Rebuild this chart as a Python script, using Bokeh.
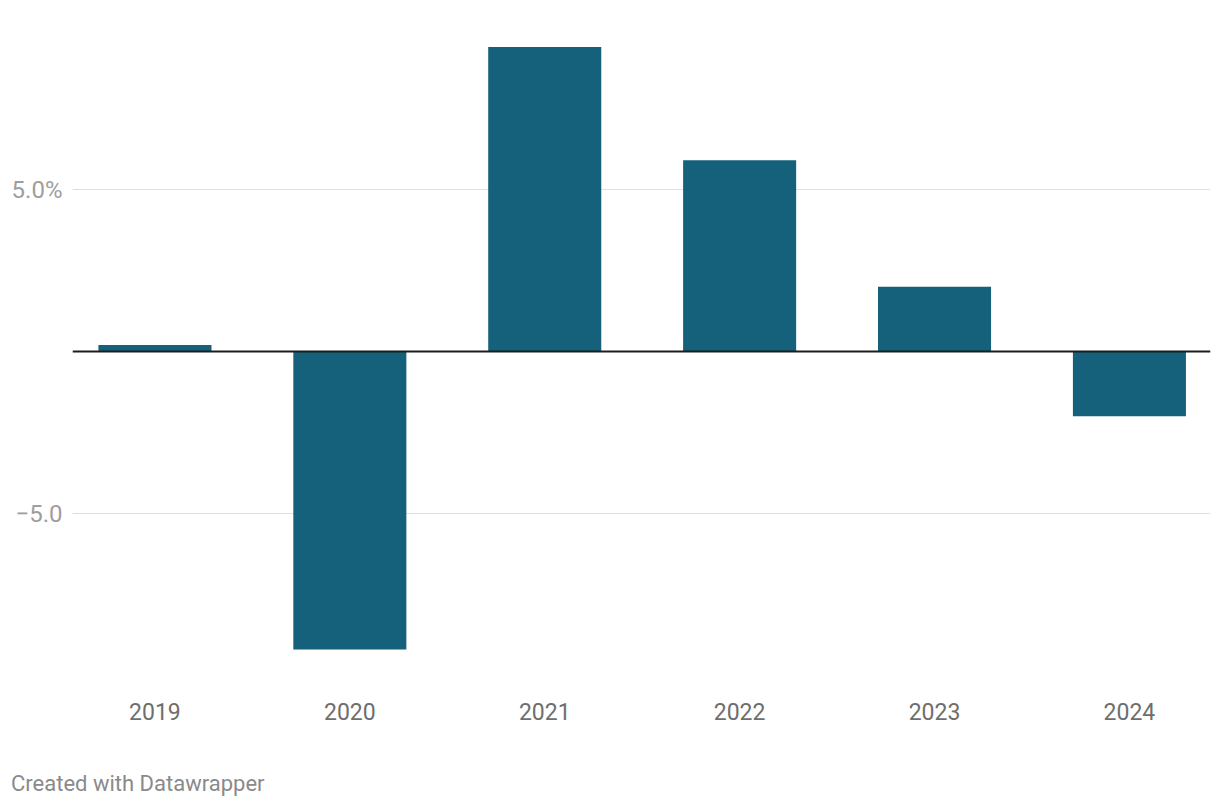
from bokeh.plotting import figure
from bokeh.models import FixedTicker, Span, Div, ColumnDataSource, Range1d
from bokeh.layouts import column
from bokeh.embed import file_html
from bokeh.resources import INLINE

# Data
years = ["2019", "2020", "2021", "2022", "2023", "2024"]
growth = [0.2, -9.2, 9.4, 5.9, 2.0, -2.0]
y_ticks = [-5, 5]
y_tick_labels = ["\u22125.0", "5.0%"]
footer = "Created with Datawrapper"

idx = list(range(len(years)))
src = ColumnDataSource(dict(x=idx, top=growth, year=years))

p = figure(width=1212, height=760, output_backend="svg", toolbar_location=None,
           x_range=Range1d(-0.423, len(years) - 1 + 0.416),
           y_range=Range1d(-10, 10),
           min_border_left=72, min_border_right=2, min_border_top=27,
           min_border_bottom=85, margin=(0, 0, 0, 0))

p.vbar(x="x", top="top", bottom=0, width=0.58, source=src,
       fill_color="#15607a", line_color=None)

p.add_layout(Span(location=0, dimension="width", line_color="#1d1d1d", line_width=2))

p.outline_line_color = None
p.background_fill_color = "white"
p.border_fill_color = "white"

p.xgrid.visible = False
p.ygrid.ticker = FixedTicker(ticks=y_ticks)
p.ygrid.grid_line_color = "#e0e0e0"
p.ygrid.grid_line_width = 1

xa = p.xaxis[0]
xa.ticker = FixedTicker(ticks=idx)
xa.major_label_overrides = {i: y for i, y in zip(idx, years)}
xa.axis_line_color = None
xa.major_tick_line_color = None
xa.minor_tick_line_color = None
xa.major_label_standoff = 21
xa.major_label_text_font = "Roboto"
xa.major_label_text_font_size = "23px"
xa.major_label_text_color = "#6e6e6e"

ya = p.yaxis[0]
ya.ticker = FixedTicker(ticks=y_ticks)
ya.major_label_overrides = {t: l for t, l in zip(y_ticks, y_tick_labels)}
ya.axis_line_color = None
ya.major_tick_line_color = None
ya.minor_tick_line_color = None
ya.major_label_standoff = 4
ya.major_label_text_font = "Roboto"
ya.major_label_text_font_size = "24px"
ya.major_label_text_color = "#9e9e9e"

note = Div(text=footer, width=1212, height=48, margin=(0, 0, 0, 0),
           styles={"font-family": "Roboto", "font-size": "22px",
                   "color": "#8a8a8a", "line-height": "48px",
                   "padding-left": "11px", "white-space": "nowrap"})

layout = column(p, note, spacing=0, margin=(0, 0, 0, 0))

open("out.html", "w").write(file_html(layout, INLINE))
